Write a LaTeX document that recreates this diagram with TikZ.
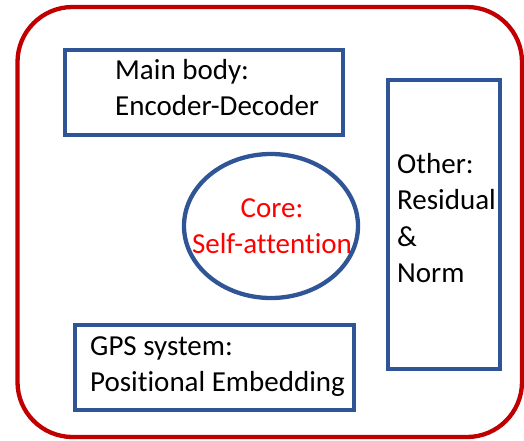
\documentclass[tikz,border=0pt]{standalone}
\usepackage{fontspec}
\setmainfont{Carlito}[Ligatures={NoCommon}]
\usetikzlibrary{shapes.geometric}
\definecolor{boxblue}{HTML}{2F5597}
\definecolor{framered}{HTML}{C00000}
\definecolor{corered}{HTML}{FF0000}
\tikzset{
  bluebox/.style={draw=boxblue, line width=4.3pt, rectangle, inner sep=0pt},
  label/.style={inner sep=0pt, font=\fontsize{29}{36.5}\selectfont},
}
\begin{document}
\begin{tikzpicture}[x=1pt,y=-1pt]
\useasboundingbox (0,0) rectangle (524,440);
\draw[framered, line width=4.3pt, rounded corners=55pt] (17.5,7) rectangle (522,437);
\node[bluebox, minimum width=278pt, minimum height=85pt] (main) at (204,92.5) {};
\node[bluebox, minimum width=112pt, minimum height=289pt] (other) at (444,224.5) {};
\node[bluebox, minimum width=279pt, minimum height=85pt] (gps) at (214.5,367.5) {};
\node[draw=boxblue, line width=4.3pt, ellipse, minimum width=174pt, minimum height=144pt, inner sep=0pt] (core) at (271,226) {};
\node[label, anchor=base west] (maintext) at (115,79) {\begin{tabular}[t]{@{}l@{}}Main body:\\Encoder-Decoder\end{tabular}};
\node[label, anchor=base west] (othertext) at (397,173) {\begin{tabular}[t]{@{}l@{}}Other:\\Residual\\\&\\Norm\end{tabular}};
\node[label, anchor=base west] (gpstext) at (90,355) {\begin{tabular}[t]{@{}l@{}}GPS system:\\Positional Embedding\end{tabular}};
\node[label, anchor=base, text=corered] (coretext) at (272,217) {\begin{tabular}[t]{@{}c@{}}Core:\\Self-attention\end{tabular}};
\end{tikzpicture}
\end{document}
